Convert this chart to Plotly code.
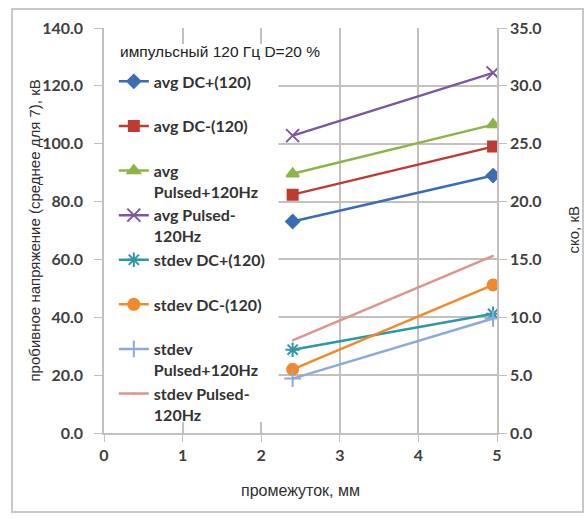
import plotly.graph_objects as go

gap_x = [2.4, 4.95]

avg_dc_pos = [73.1, 89.0]
avg_dc_neg = [82.4, 99.0]
avg_pulsed_pos = [89.6, 106.6]
avg_pulsed_neg = [102.8, 124.5]

std_dc_pos = [7.2, 10.3]
std_dc_neg = [5.5, 12.8]
std_pulsed_pos = [4.7, 9.9]
std_pulsed_neg = [8.0, 15.3]

names = [
    "avg DC+(120)<br> ",
    "avg DC-(120)<br> ",
    "avg<br>Pulsed+120Hz",
    "avg Pulsed-<br>120Hz",
    "stdev DC+(120)<br> ",
    "stdev DC-(120)<br> ",
    "stdev<br>Pulsed+120Hz",
    "stdev Pulsed-<br>120Hz",
]

left_ticks = [0, 20, 40, 60, 80, 100, 120, 140]
right_ticks = [0, 5, 10, 15, 20, 25, 30, 35]
x_ticks = [0, 1, 2, 3, 4, 5]

series = [
    (avg_dc_pos, "#3b6db3", "diamond", 10, "y"),
    (avg_dc_neg, "#be3a33", "square", 10, "y"),
    (avg_pulsed_pos, "#8cb546", "triangle-up", 11, "y"),
    (avg_pulsed_neg, "#7b58a4", "x-thin-open", 13, "y"),
    (std_dc_pos, "#2f97a6", "asterisk-open", 12, "y2"),
    (std_dc_neg, "#f08a2c", "circle", 11, "y2"),
    (std_pulsed_pos, "#8eaadb", "cross-thin-open", 12, "y2"),
    (std_pulsed_neg, "#dc968f", "line-ew-open", 1, "y2"),
]

fig = go.Figure()
for i, (vals, col, sym, sz, ax) in enumerate(series):
    fig.add_trace(go.Scatter(
        x=gap_x, y=vals, name=names[i], yaxis=ax, mode="lines+markers",
        legendgroup=f"g{i}",
        line=dict(color=col, width=2.5),
        marker=dict(symbol=sym, size=sz, color=col, line=dict(color=col, width=2)),
    ))

tick_font = dict(family="Lato", size=16, color="#404040", weight="bold")
title_font = dict(family="Liberation Sans", size=16, color="#303030")
ytitle_font = dict(family="Liberation Sans", size=15, color="#303030")
grid = "#c4c0c0"

fig.update_layout(
    width=584, height=519,
    margin=dict(l=104, r=87, t=28, b=86, autoexpand=False),
    paper_bgcolor="white", plot_bgcolor="white",
    xaxis=dict(range=[0, 5], tickvals=x_ticks, tickfont=tick_font, automargin=False,
               showgrid=True, gridcolor=grid, gridwidth=1.5,
               showline=True, linecolor=grid, linewidth=1.5,
               ticks="outside", ticklen=7, tickcolor=grid,
               title=dict(text="промежуток, мм", font=title_font, standoff=22),
               zeroline=False),
    yaxis=dict(range=[0, 140], tickvals=left_ticks, tickformat=".1f", tickfont=tick_font,
               automargin=False, ticklabelstandoff=8,
               showgrid=True, gridcolor=grid, gridwidth=1.5,
               showline=True, linecolor=grid, linewidth=1.5,
               ticks="outside", ticklen=8, tickcolor=grid,
               zeroline=False),
    yaxis2=dict(range=[0, 35], tickvals=right_ticks, tickformat=".1f", tickfont=tick_font,
                automargin=False,
                overlaying="y", side="right", showgrid=False,
                showline=True, linecolor=grid, linewidth=1.5,
                ticks="outside", ticklen=8, tickcolor=grid,
                zeroline=False),
    legend=dict(x=0.025, y=0.91, xanchor="left", yanchor="top",
                bgcolor="rgba(0,0,0,0)", font=dict(family="Lato", size=16, color="#333333", weight="bold"),
                traceorder="grouped", tracegroupgap=0, valign="top",
                itemwidth=30),
    showlegend=True,
)

fig.add_shape(type="rect", xref="x", yref="y", x0=0, x1=2.22, y0=3.8, y1=134.5,
              fillcolor="white", line=dict(width=0), layer="between")
fig.add_shape(type="rect", xref="paper", yref="paper",
              x0=(12 - 104) / 393, x1=(583 - 104) / 393,
              y0=(433 - 512) / 405, y1=(433 - 9) / 405,
              line=dict(color="#c8c8c8", width=2), fillcolor="rgba(0,0,0,0)")
fig.add_annotation(text="импульсный 120 Гц D=20 %", xref="paper", yref="paper",
                   x=(118 - 104) / 393, y=(433 - 52) / 405, xanchor="left", yanchor="middle",
                   showarrow=False, font=dict(family="Liberation Sans", size=15.5, color="#222222"))
fig.add_annotation(text="пробивное напряжение (среднее для 7), кВ", xref="paper", yref="paper",
                   x=(34 - 104) / 393, y=0.5, xanchor="center", yanchor="middle", textangle=-90,
                   showarrow=False, font=ytitle_font)
fig.add_annotation(text="ско, кВ", xref="paper", yref="paper",
                   x=(573 - 104) / 393, y=0.5, xanchor="center", yanchor="middle", textangle=-90,
                   showarrow=False, font=ytitle_font)

fig.write_html("out.html", config={"displayModeBar": False},
               post_script="document.body.style.margin='0';")
